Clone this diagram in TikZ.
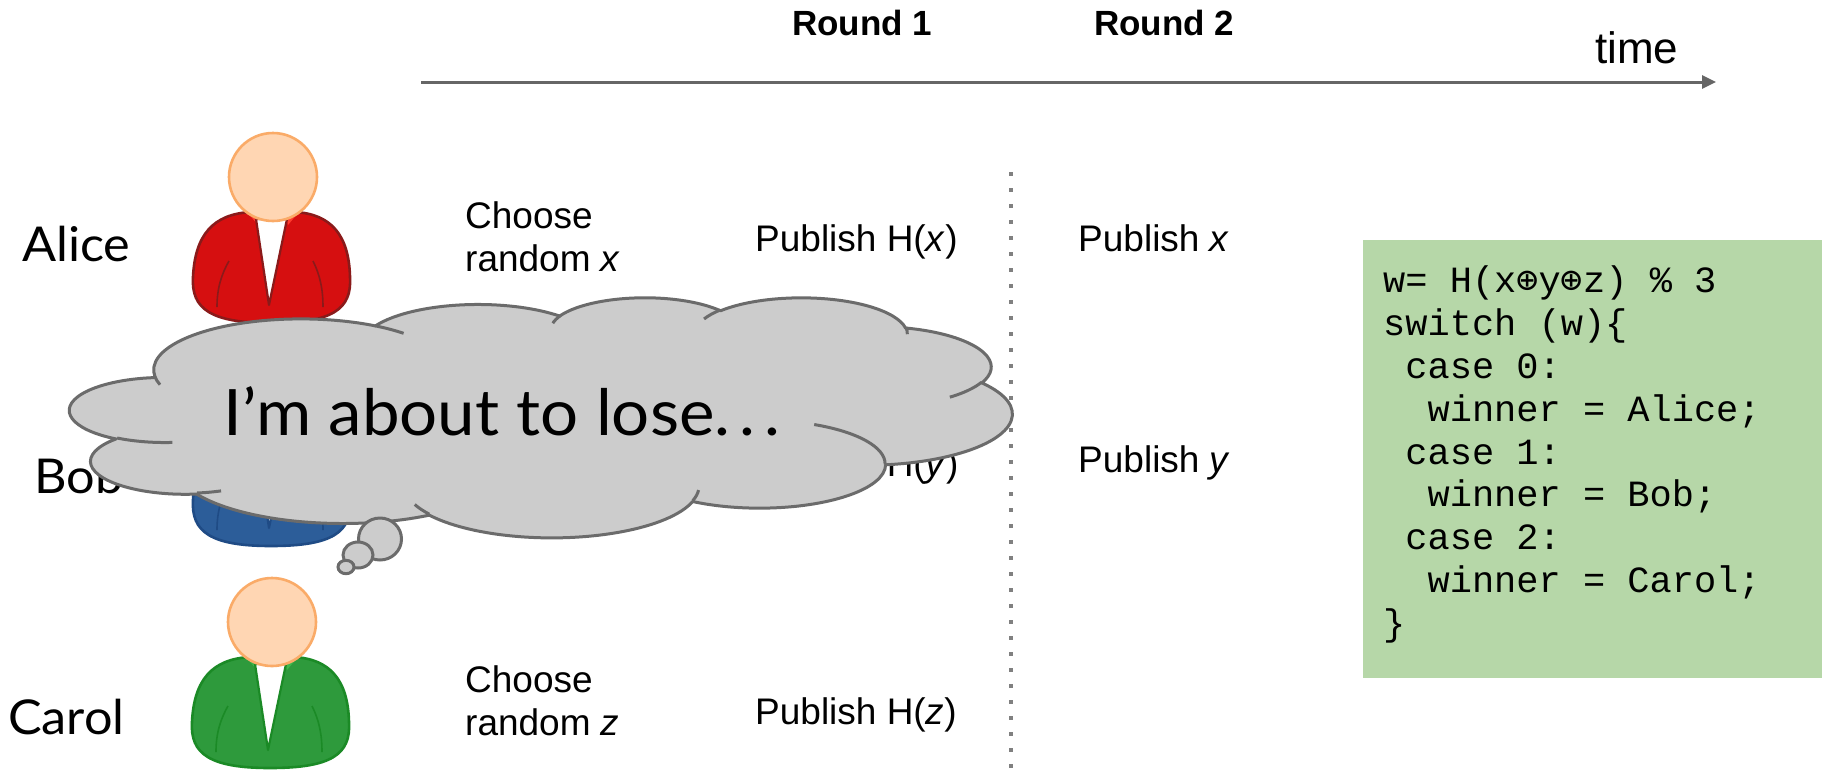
\documentclass[tikz,border=0pt]{standalone}
\usepackage{fontspec}
\setmainfont{Liberation Sans}
\newfontfamily\namefont[FakeStretch=1.05]{Lato}
\newfontfamily\codefont{Liberation Mono}
\newfontfamily\symfont{DejaVu Sans Mono}
\usetikzlibrary{arrows.meta}

\definecolor{axisgray}{HTML}{666666}
\definecolor{dotgray}{HTML}{808080}
\definecolor{cloudfill}{HTML}{CCCCCC}
\definecolor{cloudedge}{HTML}{6B6B6B}
\definecolor{codebg}{HTML}{B6D7A8}
\definecolor{headfill}{HTML}{FFD6B3}
\definecolor{headedge}{HTML}{FAAB68}
\definecolor{redfill}{HTML}{D60F10}
\definecolor{redline}{HTML}{8A1A1A}
\definecolor{redcollar}{HTML}{FF3B2E}
\definecolor{bluefill}{HTML}{2C5D99}
\definecolor{blueline}{HTML}{1F4B85}
\definecolor{bluecollar}{HTML}{3F7AC4}
\definecolor{greenfill}{HTML}{2E9A3C}
\definecolor{greenline}{HTML}{1B8A26}
\definecolor{greencollar}{HTML}{3DB84C}

% ---- cloud outline built from elliptical arcs (43200-unit grid, divided by 100)
\newcommand\cloudoutline{}
\newcommand\cloudwrinkles{}
\newcommand\cloudarcspec[4]{%
  \pgfmathsetmacro\cloudA{atan2((#1)*sin(#3),(#2)*cos(#3))}%
  \pgfmathsetmacro\cloudB{atan2((#1)*sin((#3)+(#4)),(#2)*cos((#3)+(#4)))}%
  \pgfmathsetmacro\cloudB{\cloudB+360*((#4)>0)*(\cloudB<\cloudA)-360*((#4)<0)*(\cloudB>\cloudA)}%
  \edef\cloudarc{arc[start angle=\cloudA,end angle=\cloudB,x radius=#1,y radius=#2]}%
}
\newcommand\addoutline[4]{\cloudarcspec{#1}{#2}{#3}{#4}\xdef\cloudoutline{\cloudoutline\space\cloudarc}}
\newcommand\addwrinkle[6]{\cloudarcspec{#3}{#4}{#5}{#6}\xdef\cloudwrinkles{\cloudwrinkles\space(#1,#2)\space\cloudarc}}

\addoutline{67.53}{91.90}{-190.487483}{123.780533}
\addoutline{53.33}{72.67}{-144.102383}{89.945233}
\addoutline{43.65}{59.45}{-145.807917}{99.723017}
\addoutline{48.57}{65.95}{-130.986067}{117.241733}
\addoutline{53.33}{72.73}{-78.708883}{109.026917}
\addoutline{67.75}{92.20}{-46.26725}{130.269}
\addoutline{57.85}{78.67}{0.625017}{114.033333}
\addoutline{67.52}{92.15}{22.4516}{115.17255}
\addoutline{77.20}{105.43}{66.242633}{75.711017}
\addoutline{43.60}{59.18}{-274.942083}{146.735567}
\addoutline{43.45}{59.45}{-246.8285}{152.51885}

\addwrinkle{46.93}{261.77}{43.45}{59.45}{86.742}{26.4295}
\addwrinkle{69.28}{348.99}{43.60}{59.18}{73.610467}{11.447467}
\addwrinkle{164.78}{390.90}{67.52}{92.15}{137.62415}{14.0811}
\addwrinkle{288.27}{347.51}{67.52}{92.15}{6.453267}{15.99835}
\addwrinkle{341.29}{229.54}{57.85}{78.67}{-70.29235}{70.917367}
\addwrinkle{417.98}{153.54}{53.33}{72.73}{30.318033}{27.7515}
\addwrinkle{383.24}{54.26}{48.57}{65.95}{-13.744333}{14.8589}
\addwrinkle{290.78}{39.52}{48.57}{65.95}{-149.18145}{18.195367}
\addwrinkle{221.41}{47.20}{43.65}{59.45}{-163.494267}{17.68635}
\addwrinkle{140.00}{51.92}{67.53}{91.90}{-66.70695}{12.31935}
\addwrinkle{41.27}{157.89}{67.53}{91.90}{157.65435}{11.858167}

% ---- a person icon, placed by the centre of its head
\newcommand\drawperson[5]{%
  \begin{scope}[shift={(#1,#2)}]
    \draw[line width=2.6pt, draw=#4, fill=#3]
      (-22,35) .. controls (-60,37) and (-78,58) .. (-80,100)
      .. controls (-82,132) and (-62,146) .. (-2,146)
      .. controls (60,146) and (79,132) .. (77,100)
      .. controls (76,58) and (58,37) .. (22,35) -- cycle;
    \fill[#5] (-25,36) -- (-12,36) -- (-15,48) -- cycle;
    \fill[#5] (25,36) -- (12,36) -- (15,48) -- cycle;
    \draw[line width=2.2pt, draw=#4, fill=white, line join=round]
      (-17,42) -- (14,42) -- (-4,128) -- cycle;
    \draw[line width=1.6pt, draw=#4] (-44,84) .. controls (-52,98) and (-56,112) .. (-56,130);
    \draw[line width=1.6pt, draw=#4] (40,84) .. controls (47,98) and (50,112) .. (50,130);
    \draw[line width=2.6pt, draw=headedge, fill=headfill] (0,0) circle[radius=44];
  \end{scope}}

\tikzset{
  txt/.style={inner sep=0pt, anchor=base west, font=\fontsize{37}{43}\selectfont},
  roundlbl/.style={inner sep=0pt, anchor=base, font=\fontsize{35}{42}\selectfont\bfseries},
  namelbl/.style={inner sep=0pt, anchor=base west, font=\namefont\fontsize{48}{56}\selectfont},
  codeln/.style={inner sep=0pt, anchor=base west, font=\codefont\fontsize{37}{43}\selectfont},
  cloudline/.style={draw=cloudedge, line width=3pt},
}

\begin{document}
\begin{tikzpicture}[x=1pt, y=-1pt]
  \useasboundingbox (0,0) rectangle (1822,772);
  \fill[white] (0,0) rectangle (1822,772);

  % time axis and round headings
  \coordinate (tstart) at (421,82);
  \coordinate (tend) at (1716,82);
  \draw[axisgray, line width=3pt, -{Triangle[length=14pt,width=13pt]}] (tstart) -- (tend);
  \node[roundlbl] (r1) at (862,35) {Round 1};
  \node[roundlbl] (r2) at (1164,35) {Round 2};
  \node[txt, font=\fontsize{44}{50}\selectfont] (time) at (1595,63) {time};

  % boundary between the rounds
  \coordinate (sepTop) at (1011,172);
  \coordinate (sepBot) at (1011,772);
  \draw[dotgray, line width=3.5pt, dash pattern=on 3.5pt off 12.5pt] (sepTop) -- (sepBot);

  % players
  \drawperson{273}{177}{redfill}{redline}{redcollar}
  \drawperson{273}{400}{bluefill}{blueline}{bluecollar}
  \drawperson{272}{622}{greenfill}{greenline}{greencollar}
  \node[namelbl] (alice) at (22,261) {Alice};
  \node[namelbl] (bob) at (34,493) {Bob};
  \node[namelbl] (carol) at (8,734) {Carol};

  % round 1
  \node[txt] (cx1) at (465,228) {Choose};
  \node[txt] (cx2) at (465,271) {random \textit{x}};
  \node[txt] (hx) at (755,251) {Publish H(\textit{x})};
  \node[txt] (hy) at (755,476) {Publish H(\textit{y})};
  \node[txt] (cz1) at (465,692) {Choose};
  \node[txt] (cz2) at (465,735) {random \textit{z}};
  \node[txt] (hz) at (755,724) {Publish H(\textit{z})};

  % round 2
  \node[txt] (px) at (1078,251) {Publish \textit{x}};
  \node[txt] (py) at (1078,472) {Publish \textit{y}};

  % winner selection code
  \fill[codebg] (1363,240) rectangle (1822,678);
  \node[codeln] (c1) at (1383,292) {w= H(x{\symfont ⊕}y{\symfont ⊕}z) \% 3};
  \node[codeln] (c2) at (1383,335) {switch (w)\{};
  \node[codeln] (c3) at (1405.2,378) {case 0:};
  \node[codeln] (c4) at (1427.4,421) {winner = Alice;};
  \node[codeln] (c5) at (1405.2,464) {case 1:};
  \node[codeln] (c6) at (1427.4,506) {winner = Bob;};
  \node[codeln] (c7) at (1405.2,549) {case 2:};
  \node[codeln] (c8) at (1427.4,592) {winner = Carol;};
  \node[codeln] (c9) at (1383,635) {\}};

  % thought cloud
  \begin{scope}[shift={(70,297)}]
    \begin{scope}[x=2.180556pt, y=-0.555556pt]
      \edef\cloudcmd{\noexpand\draw[cloudline, fill=cloudfill, line join=round] (39,143.7) \cloudoutline\space -- cycle;}
      \cloudcmd
      \edef\cloudcmd{\noexpand\draw[cloudline] \cloudwrinkles;}
      \cloudcmd
    \end{scope}
  \end{scope}
  \draw[cloudline, fill=cloudfill] (380,539) ellipse[x radius=21.5, y radius=21];
  \draw[cloudline, fill=cloudfill] (358,555) ellipse[x radius=15, y radius=13];
  \draw[cloudline, fill=cloudfill] (346,567) ellipse[x radius=8, y radius=6.7];
  \node[inner sep=0pt, anchor=base west, font=\namefont\fontsize{64}{76}\selectfont] (thought) at (223,435) {I’m about to lose.\kern9pt.\kern9pt.};
\end{tikzpicture}
\end{document}
